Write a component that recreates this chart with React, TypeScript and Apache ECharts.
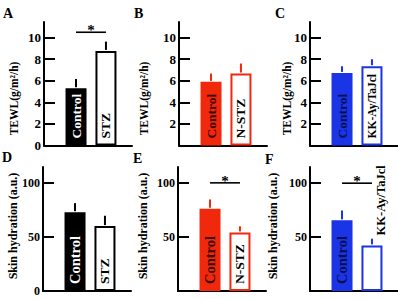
import { useEffect, useRef } from 'react';
import * as echarts from 'echarts';

// ---- data ----
const panelLetters = ['A', 'B', 'C', 'D', 'E', 'F'];
const controlLabel = 'Control';
const modelLabels = ['STZ', 'N-STZ', 'KK-Ay/TaJcl'];
const yAxisNames = ['TEWL(g/m²/h)', 'Skin hydration (a.u.)'];

const tewlControl = [5.31, 5.9, 6.73];
const tewlControlErr = [0.86, 0.77, 0.62];
const tewlModel = [8.77, 6.67, 7.35];
const tewlModelErr = [0.86, 0.93, 0.65];
const tewlSignificance: (number | null)[] = [10.5, null, null];

const hydrationControl = [73.1, 76.3, 65.5];
const hydrationControlErr = [8.4, 8.6, 9.2];
const hydrationModel = [60.2, 54.3, 42.3];
const hydrationModelErr = [9.6, 5.7, 6.2];
const hydrationSignificance: (number | null)[] = [null, 100.3, 100];

const tewlTicks = [2, 4, 6, 8, 10];
const hydrationTicks = [50, 100];

// ---- styling / layout ----
const FONT = '"Liberation Serif", "Times New Roman", serif';
const groupColors = ['#000000', '#f0280c', '#1b34e6'];
const filledTextColors = ['#ffffff', '#3a0600', '#0a0f50'];
const gridLefts = [
  [44, 179, 310],
  [43, 178, 310],
];
const gridTops = [22, 167];
const gridHeights = [123.5, 124];
const yMax = [11.45, 115];
const tickFont = [13, 12];
const nameCenters = [
  [[14, 98.5], [144, 98.5], [287, 98.5]],
  [[13, 226], [143, 226], [273, 226]],
];
const letterPos = [
  [3, 13], [134, 13], [275, 13],
  [2, 157], [133, 158], [265, 159],
];

function buildOption() {
  const grid: any[] = [];
  const xAxis: any[] = [];
  const yAxis: any[] = [];
  const series: any[] = [];
  const graphic: any[] = [];

  const rows = [
    { ctrl: tewlControl, ctrlErr: tewlControlErr, model: tewlModel, modelErr: tewlModelErr, sig: tewlSignificance, ticks: tewlTicks },
    { ctrl: hydrationControl, ctrlErr: hydrationControlErr, model: hydrationModel, modelErr: hydrationModelErr, sig: hydrationSignificance, ticks: hydrationTicks },
  ];

  rows.forEach((row, r) => {
    for (let c = 0; c < 3; c++) {
      const idx = r * 3 + c;
      const color = groupColors[c];
      grid.push({ left: gridLefts[r][c], top: gridTops[r], width: 88, height: gridHeights[r] });
      xAxis.push({
        type: 'value', gridIndex: idx, min: -1.07, max: 1.87,
        axisLine: { show: true, onZero: false, lineStyle: { color: '#000', width: 2 } },
        axisTick: { show: false }, axisLabel: { show: false }, splitLine: { show: false },
      });
      yAxis.push({
        type: 'value', gridIndex: idx, min: 0, max: yMax[r],
        axisLine: { show: true, onZero: false, lineStyle: { color: '#000', width: 2 } },
        axisTick: { show: true, inside: true, length: 11, lineStyle: { color: '#000', width: 2 }, customValues: row.ticks },
        axisLabel: {
          show: true, customValues: c === 0 ? [0, ...row.ticks] : row.ticks,
          fontSize: tickFont[r], fontWeight: 'bold', fontFamily: FONT, color: '#000', margin: 3,
        },
        splitLine: { show: false },
      });

      const isF = r === 1 && c === 2;
      const modelFont = c === 2 ? (r === 0 ? 11.5 : 12.5) : 13.5;
      series.push({
        type: 'bar', xAxisIndex: idx, yAxisIndex: idx, barWidth: 21,
        data: [
          {
            value: [0, row.ctrl[c]],
            itemStyle: { color, borderColor: color, borderWidth: 2 },
            label: {
              show: true, formatter: controlLabel, position: 'insideBottom', rotate: 90,
              align: 'left', verticalAlign: 'middle', distance: 7,
              color: filledTextColors[c], fontSize: r === 0 ? 13.5 : 14.5, fontWeight: 'bold', fontFamily: FONT,
            },
          },
          {
            value: [1, row.model[c]],
            itemStyle: { color: '#ffffff', borderColor: color, borderWidth: 2 },
            label: isF
              ? {
                  show: true, formatter: modelLabels[c], position: [19.5, -10], rotate: 90,
                  align: 'left', verticalAlign: 'middle',
                  color: '#000', fontSize: modelFont, fontWeight: 'bold', fontFamily: FONT,
                }
              : {
                  show: true, formatter: modelLabels[c], position: 'insideBottom', rotate: 90,
                  align: 'left', verticalAlign: 'middle', distance: 7,
                  color: '#000', fontSize: modelFont, fontWeight: 'bold', fontFamily: FONT,
                },
          },
        ],
      });

      series.push({
        type: 'custom', xAxisIndex: idx, yAxisIndex: idx, clip: false, z: 3,
        data: [
          [0, row.ctrl[c], row.ctrlErr[c]],
          [1, row.model[c], row.modelErr[c]],
        ],
        renderItem: (_p: any, api: any) => {
          const x = api.value(0);
          const m = api.value(1);
          const e = api.value(2);
          const p0 = api.coord([x, m]);
          const p1 = api.coord([x, m + e]);
          return {
            type: 'line',
            shape: { x1: p0[0], y1: p0[1] - 1, x2: p1[0], y2: p1[1] },
            style: { stroke: color, lineWidth: 2 },
          };
        },
      });

      const s = row.sig[c];
      if (s !== null) {
        series.push({
          type: 'custom', xAxisIndex: idx, yAxisIndex: idx, clip: false, z: 3,
          data: [[0, 1, s]],
          renderItem: (_p: any, api: any) => {
            const a = api.coord([api.value(0), api.value(2)]);
            const b = api.coord([api.value(1), api.value(2)]);
            return {
              type: 'group',
              children: [
                { type: 'line', shape: { x1: a[0], y1: a[1], x2: b[0], y2: b[1] }, style: { stroke: '#000', lineWidth: 1.6 } },
                {
                  type: 'text', x: (a[0] + b[0]) / 2, y: a[1] - 2,
                  style: { text: '*', fill: '#000', font: `bold 15px ${FONT}`, align: 'center', verticalAlign: 'middle' },
                },
              ],
            };
          },
        });
      }

      const nc = nameCenters[r][c];
      graphic.push({
        type: 'text', x: nc[0], y: nc[1], rotation: Math.PI / 2,
        style: {
          text: yAxisNames[r], fill: '#000', font: `bold ${r === 0 ? 11.5 : 12}px ${FONT}`,
          align: 'center', verticalAlign: 'middle',
        },
      });
      const lp = letterPos[idx];
      graphic.push({
        type: 'text', x: lp[0], y: lp[1],
        style: { text: panelLetters[idx], fill: '#000', font: `bold 14px ${FONT}`, align: 'left', verticalAlign: 'middle' },
      });
    }
  });

  return {
    animation: false,
    backgroundColor: '#ffffff',
    textStyle: { fontFamily: FONT },
    grid, xAxis, yAxis, series, graphic,
  };
}

export default function App() {
  const ref = useRef<HTMLDivElement>(null);
  useEffect(() => {
    if (!ref.current) return;
    const chart = echarts.init(ref.current, undefined, { renderer: 'svg' });
    chart.setOption(buildOption() as any);
    return () => chart.dispose();
  }, []);
  return <div ref={ref} style={{ position: 'fixed', left: 0, top: 0, width: 398, height: 299 }} />;
}
